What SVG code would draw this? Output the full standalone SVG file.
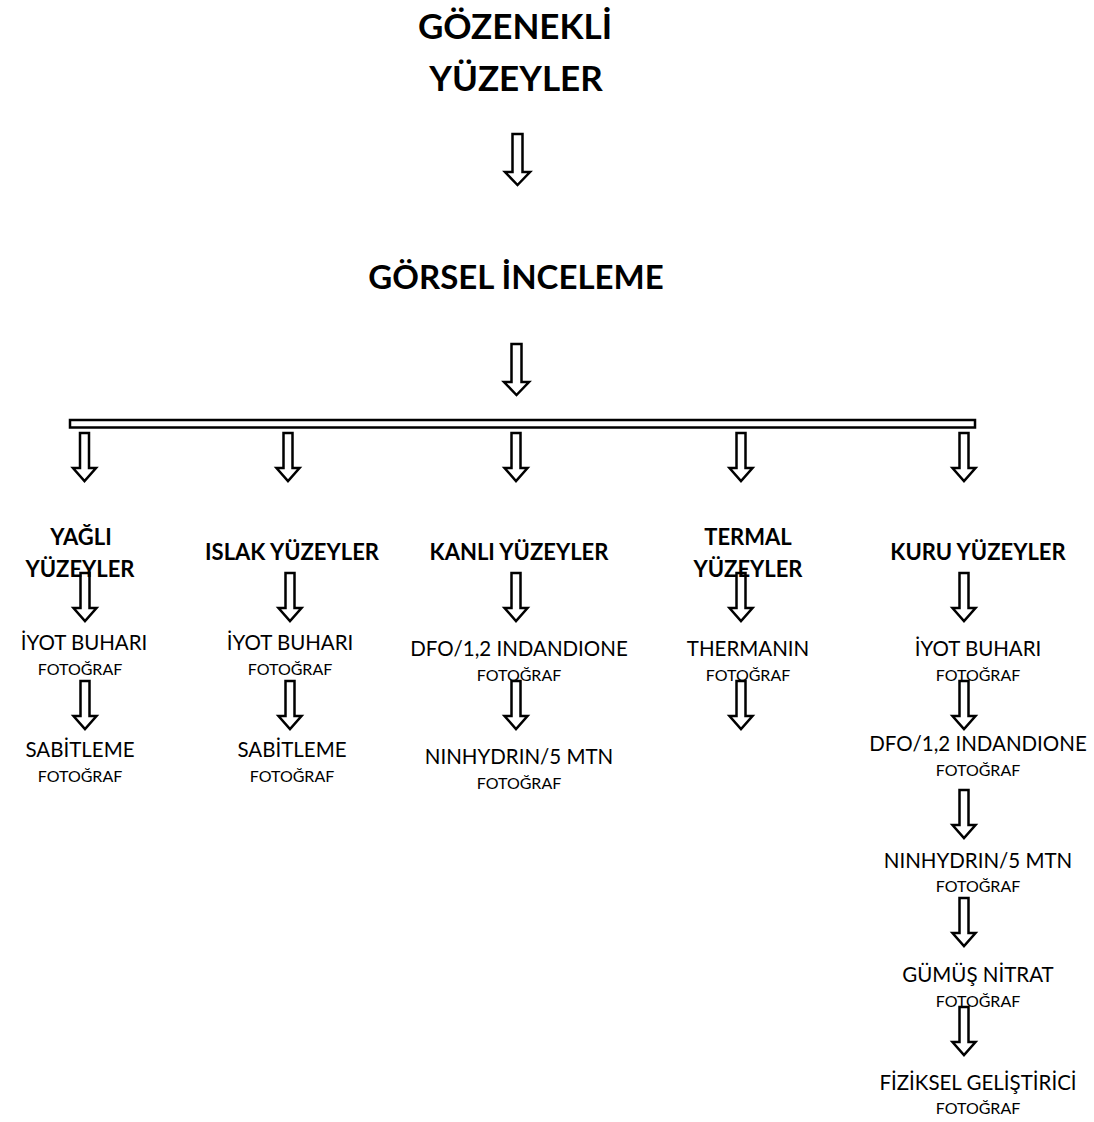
<svg xmlns="http://www.w3.org/2000/svg" xmlns:xlink="http://www.w3.org/1999/xlink" width="1094" height="1122" viewBox="0 0 1094 1122">
<style>
text{font-family:Lato,"Noto Sans","Liberation Sans",sans-serif;fill:#000;text-anchor:middle}
.t{font-size:35px;font-weight:bold}
.g{font-size:33px;font-weight:bold}
.h{font-size:22px;font-weight:bold}
.i{font-size:20.5px}
.f{font-size:16px}
.ar{fill:#fff;stroke:#000;stroke-width:2.5;stroke-linejoin:miter}
</style>
<defs>
<path id="arr" class="ar" d="M-4.5,0H4.5V35H11.5L0,48L-11.5,35H-4.5Z"/>
<path id="arrB" class="ar" d="M-5,0H5V38H12.5L0,51L-12.5,38H-5Z"/>
</defs>
<rect width="1094" height="1122" fill="#fff"/>
<g id="connectors">
<use xlink:href="#arrB" x="517.5" y="134"/>
<use xlink:href="#arrB" x="516.5" y="344"/>
<rect x="70" y="420" width="905" height="7.5" fill="#fff" stroke="#000" stroke-width="2.5"/>
<use xlink:href="#arr" x="84.5" y="433"/>
<use xlink:href="#arr" x="288" y="433"/>
<use xlink:href="#arr" x="516" y="433"/>
<use xlink:href="#arr" x="741" y="433"/>
<use xlink:href="#arr" x="964" y="433"/>
<use xlink:href="#arr" x="85" y="573"/>
<use xlink:href="#arr" x="85" y="681"/>
<use xlink:href="#arr" x="290" y="573"/>
<use xlink:href="#arr" x="290" y="681"/>
<use xlink:href="#arr" x="516" y="573"/>
<use xlink:href="#arr" x="516" y="681"/>
<use xlink:href="#arr" x="741" y="573"/>
<use xlink:href="#arr" x="741" y="681"/>
<use xlink:href="#arr" x="964" y="573"/>
<use xlink:href="#arr" x="964" y="681"/>
<use xlink:href="#arr" x="964" y="790"/>
<use xlink:href="#arr" x="964" y="898"/>
<use xlink:href="#arr" x="964" y="1007"/>
</g>
<g id="n-root"><text class="t" x="515" y="39">GÖZENEKLİ</text><text class="t" x="516" y="91">YÜZEYLER</text></g>
<g id="n-gorsel"><text class="g" x="516" y="289">GÖRSEL İNCELEME</text></g>
<g id="n-yagli"><text class="h" x="81" y="545">YAĞLI</text><text class="h" x="80" y="577">YÜZEYLER</text></g>
<g id="n-islak"><text class="h" x="292" y="560">ISLAK YÜZEYLER</text></g>
<g id="n-kanli"><text class="h" x="519" y="560">KANLI YÜZEYLER</text></g>
<g id="n-termal"><text class="h" x="748" y="545">TERMAL</text><text class="h" x="748" y="577">YÜZEYLER</text></g>
<g id="n-kuru"><text class="h" x="978" y="560">KURU YÜZEYLER</text></g>
<g id="n-y1"><text class="i" x="84" y="650">İYOT BUHARI</text><text class="f" x="80" y="675">FOTOĞRAF</text></g>
<g id="n-y2"><text class="i" x="80" y="757">SABİTLEME</text><text class="f" x="80" y="782">FOTOĞRAF</text></g>
<g id="n-i1"><text class="i" x="290" y="650">İYOT BUHARI</text><text class="f" x="290" y="675">FOTOĞRAF</text></g>
<g id="n-i2"><text class="i" x="292" y="757">SABİTLEME</text><text class="f" x="292" y="782">FOTOĞRAF</text></g>
<g id="n-k1"><text class="i" x="519" y="656">DFO/1,2 INDANDIONE</text><text class="f" x="519" y="681">FOTOĞRAF</text></g>
<g id="n-k2"><text class="i" x="519" y="764">NINHYDRIN/5 MTN</text><text class="f" x="519" y="789">FOTOĞRAF</text></g>
<g id="n-t1"><text class="i" x="748" y="656">THERMANIN</text><text class="f" x="748" y="681">FOTOĞRAF</text></g>
<g id="n-c1"><text class="i" x="978" y="656">İYOT BUHARI</text><text class="f" x="978" y="681">FOTOĞRAF</text></g>
<g id="n-c2"><text class="i" x="978" y="751">DFO/1,2 INDANDIONE</text><text class="f" x="978" y="776">FOTOĞRAF</text></g>
<g id="n-c3"><text class="i" x="978" y="868">NINHYDRIN/5 MTN</text><text class="f" x="978" y="892">FOTOĞRAF</text></g>
<g id="n-c4"><text class="i" x="978" y="982">GÜMÜŞ NİTRAT</text><text class="f" x="978" y="1007">FOTOĞRAF</text></g>
<g id="n-c5"><text class="i" x="978" y="1090">FİZİKSEL GELİŞTİRİCİ</text><text class="f" x="978" y="1114">FOTOĞRAF</text></g>
</svg>
